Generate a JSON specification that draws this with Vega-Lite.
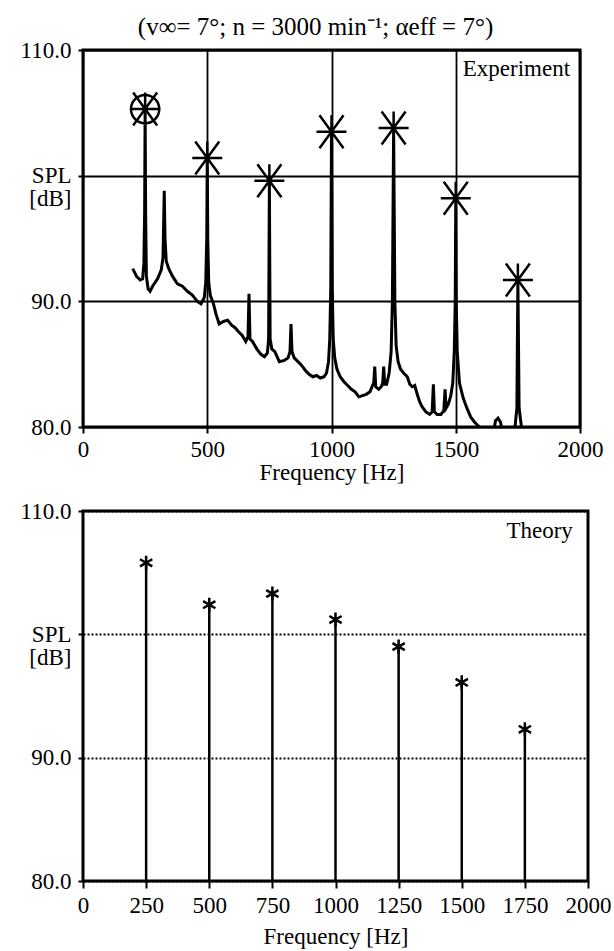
{
  "$schema": "https://vega.github.io/schema/vega-lite/v6.json",
  "background": "white",
  "padding": {"left": 18, "top": 14, "right": 2, "bottom": 0},
  "title": {
    "text": "(v∞= 7°; n = 3000 min⁻¹; αeff = 7°)",
    "font": "Liberation Serif",
    "fontSize": 25,
    "fontWeight": "normal",
    "color": "black",
    "anchor": "middle",
    "offset": -2
  },
  "datasets": {
    "spectrum": [
      {"seg": "a", "f": 200, "v": 92.6}, {"seg": "a", "f": 215, "v": 92.0}, {"seg": "a", "f": 230, "v": 91.7},
      {"seg": "a", "f": 240, "v": 91.8}, {"seg": "a", "f": 245, "v": 93.0}, {"seg": "a", "f": 248, "v": 97.0},
      {"seg": "a", "f": 250, "v": 105.3}, {"seg": "a", "f": 252, "v": 97.0}, {"seg": "a", "f": 255, "v": 92.0},
      {"seg": "a", "f": 262, "v": 91.0}, {"seg": "a", "f": 270, "v": 90.8}, {"seg": "a", "f": 280, "v": 91.2},
      {"seg": "a", "f": 300, "v": 91.8}, {"seg": "a", "f": 315, "v": 92.5}, {"seg": "a", "f": 322, "v": 93.5},
      {"seg": "a", "f": 327, "v": 98.8}, {"seg": "a", "f": 330, "v": 95.0}, {"seg": "a", "f": 335, "v": 93.2},
      {"seg": "a", "f": 345, "v": 92.6}, {"seg": "a", "f": 360, "v": 92.0}, {"seg": "a", "f": 380, "v": 91.4},
      {"seg": "a", "f": 400, "v": 91.2}, {"seg": "a", "f": 420, "v": 90.8}, {"seg": "a", "f": 440, "v": 90.5},
      {"seg": "a", "f": 460, "v": 90.0}, {"seg": "a", "f": 475, "v": 89.8}, {"seg": "a", "f": 488, "v": 90.3},
      {"seg": "a", "f": 494, "v": 91.5}, {"seg": "a", "f": 498, "v": 95.0}, {"seg": "a", "f": 500, "v": 101.4},
      {"seg": "a", "f": 502, "v": 95.0}, {"seg": "a", "f": 506, "v": 91.5}, {"seg": "a", "f": 512, "v": 90.5},
      {"seg": "a", "f": 525, "v": 89.8}, {"seg": "a", "f": 535, "v": 89.0}, {"seg": "a", "f": 548, "v": 88.2},
      {"seg": "a", "f": 565, "v": 88.4}, {"seg": "a", "f": 582, "v": 88.5}, {"seg": "a", "f": 598, "v": 88.1},
      {"seg": "a", "f": 612, "v": 87.9}, {"seg": "a", "f": 625, "v": 87.6}, {"seg": "a", "f": 640, "v": 87.3},
      {"seg": "a", "f": 655, "v": 86.8}, {"seg": "a", "f": 664, "v": 87.2}, {"seg": "a", "f": 668, "v": 90.6},
      {"seg": "a", "f": 672, "v": 87.0}, {"seg": "a", "f": 682, "v": 86.8}, {"seg": "a", "f": 700, "v": 86.2},
      {"seg": "a", "f": 715, "v": 85.8}, {"seg": "a", "f": 730, "v": 85.6}, {"seg": "a", "f": 742, "v": 85.9},
      {"seg": "a", "f": 747, "v": 87.0}, {"seg": "a", "f": 750, "v": 99.6}, {"seg": "a", "f": 753, "v": 87.0},
      {"seg": "a", "f": 760, "v": 86.2}, {"seg": "a", "f": 772, "v": 86.0}, {"seg": "a", "f": 790, "v": 85.2},
      {"seg": "a", "f": 810, "v": 85.3}, {"seg": "a", "f": 825, "v": 85.5}, {"seg": "a", "f": 833, "v": 86.0},
      {"seg": "a", "f": 837, "v": 88.2}, {"seg": "a", "f": 841, "v": 86.0}, {"seg": "a", "f": 850, "v": 85.5},
      {"seg": "a", "f": 865, "v": 85.2}, {"seg": "a", "f": 880, "v": 84.9}, {"seg": "a", "f": 895, "v": 84.5},
      {"seg": "a", "f": 910, "v": 84.2}, {"seg": "a", "f": 925, "v": 84.0}, {"seg": "a", "f": 940, "v": 84.1},
      {"seg": "a", "f": 955, "v": 83.9}, {"seg": "a", "f": 970, "v": 84.0}, {"seg": "a", "f": 980, "v": 84.3},
      {"seg": "a", "f": 988, "v": 85.2}, {"seg": "a", "f": 993, "v": 87.0}, {"seg": "a", "f": 997, "v": 91.0},
      {"seg": "a", "f": 1000, "v": 103.5}, {"seg": "a", "f": 1003, "v": 91.0}, {"seg": "a", "f": 1007, "v": 87.0},
      {"seg": "a", "f": 1013, "v": 85.5}, {"seg": "a", "f": 1022, "v": 84.6}, {"seg": "a", "f": 1035, "v": 84.0},
      {"seg": "a", "f": 1050, "v": 83.6}, {"seg": "a", "f": 1065, "v": 83.3}, {"seg": "a", "f": 1080, "v": 83.0},
      {"seg": "a", "f": 1095, "v": 82.8}, {"seg": "a", "f": 1110, "v": 82.4}, {"seg": "a", "f": 1125, "v": 82.5},
      {"seg": "a", "f": 1140, "v": 82.6}, {"seg": "a", "f": 1155, "v": 82.8}, {"seg": "a", "f": 1165, "v": 83.3},
      {"seg": "a", "f": 1170, "v": 83.5}, {"seg": "a", "f": 1174, "v": 84.8}, {"seg": "a", "f": 1178, "v": 83.2},
      {"seg": "a", "f": 1190, "v": 83.0}, {"seg": "a", "f": 1200, "v": 83.2}, {"seg": "a", "f": 1206, "v": 83.5},
      {"seg": "a", "f": 1210, "v": 84.8}, {"seg": "a", "f": 1214, "v": 83.4}, {"seg": "a", "f": 1222, "v": 83.4},
      {"seg": "a", "f": 1232, "v": 84.3}, {"seg": "a", "f": 1240, "v": 86.0}, {"seg": "a", "f": 1245, "v": 90.0},
      {"seg": "a", "f": 1250, "v": 103.8}, {"seg": "a", "f": 1255, "v": 90.0}, {"seg": "a", "f": 1260, "v": 86.5},
      {"seg": "a", "f": 1268, "v": 85.2}, {"seg": "a", "f": 1278, "v": 84.6}, {"seg": "a", "f": 1290, "v": 84.3},
      {"seg": "a", "f": 1305, "v": 84.0}, {"seg": "a", "f": 1315, "v": 83.4}, {"seg": "a", "f": 1325, "v": 83.2},
      {"seg": "a", "f": 1335, "v": 83.3}, {"seg": "a", "f": 1345, "v": 82.6}, {"seg": "a", "f": 1355, "v": 82.0},
      {"seg": "a", "f": 1365, "v": 81.6}, {"seg": "a", "f": 1380, "v": 81.2}, {"seg": "a", "f": 1395, "v": 81.0},
      {"seg": "a", "f": 1405, "v": 81.2}, {"seg": "a", "f": 1410, "v": 83.4}, {"seg": "a", "f": 1414, "v": 81.2},
      {"seg": "a", "f": 1425, "v": 81.0}, {"seg": "a", "f": 1440, "v": 81.0}, {"seg": "a", "f": 1452, "v": 81.3},
      {"seg": "a", "f": 1457, "v": 83.0}, {"seg": "a", "f": 1461, "v": 81.5}, {"seg": "a", "f": 1470, "v": 81.8},
      {"seg": "a", "f": 1480, "v": 82.5}, {"seg": "a", "f": 1488, "v": 83.5}, {"seg": "a", "f": 1494, "v": 86.0},
      {"seg": "a", "f": 1498, "v": 90.0}, {"seg": "a", "f": 1500, "v": 98.2}, {"seg": "a", "f": 1502, "v": 90.0},
      {"seg": "a", "f": 1506, "v": 86.0}, {"seg": "a", "f": 1515, "v": 83.5}, {"seg": "a", "f": 1530, "v": 82.3},
      {"seg": "a", "f": 1545, "v": 81.5}, {"seg": "a", "f": 1560, "v": 80.8}, {"seg": "a", "f": 1575, "v": 80.4},
      {"seg": "a", "f": 1590, "v": 80.1}, {"seg": "a", "f": 1600, "v": 79.9},
      {"seg": "b", "f": 1655, "v": 79.9}, {"seg": "b", "f": 1660, "v": 80.5}, {"seg": "b", "f": 1670, "v": 80.7},
      {"seg": "b", "f": 1680, "v": 80.4}, {"seg": "b", "f": 1685, "v": 79.9},
      {"seg": "c", "f": 1738, "v": 79.9}, {"seg": "c", "f": 1746, "v": 81.5}, {"seg": "c", "f": 1750, "v": 91.7},
      {"seg": "c", "f": 1755, "v": 81.5}, {"seg": "c", "f": 1765, "v": 79.9}
    ],
    "exp": [
      {"f": 250, "v": 105.3}, {"f": 500, "v": 101.4}, {"f": 750, "v": 99.6}, {"f": 1000, "v": 103.5},
      {"f": 1250, "v": 103.8}, {"f": 1500, "v": 98.2}, {"f": 1750, "v": 91.7}
    ],
    "theory": [
      {"f": 250, "v": 105.8}, {"f": 500, "v": 102.4}, {"f": 750, "v": 103.3}, {"f": 1000, "v": 101.2},
      {"f": 1250, "v": 99.0}, {"f": 1500, "v": 96.1}, {"f": 1750, "v": 92.3}
    ]
  },
  "vconcat": [
    {
      "width": 497,
      "height": 377,
      "layer": [
        {
          "data": {"name": "spectrum"},
          "mark": {"type": "line", "color": "black", "strokeWidth": 3, "clip": true},
          "encoding": {
            "x": {"field": "f", "type": "quantitative"},
            "y": {"field": "v", "type": "quantitative"},
            "detail": {"field": "seg"}
          }
        },
        {
          "data": {"name": "exp"},
          "mark": {"type": "point", "shape": "M-1,0L1,0M-0.8,-1.1L0.8,1.1M0.8,-1.1L-0.8,1.1M0,-1.1L0,0", "size": 900, "color": "black", "strokeWidth": 2.5, "filled": false, "opacity": 1},
          "encoding": {
            "x": {"field": "f", "type": "quantitative"},
            "y": {"field": "v", "type": "quantitative"}
          }
        },
        {
          "data": {"name": "exp"},
          "transform": [{"filter": "datum.f == 250"}],
          "mark": {"type": "point", "shape": "circle", "size": 800, "color": "black", "strokeWidth": 2.5, "filled": false, "opacity": 1},
          "encoding": {
            "x": {"field": "f", "type": "quantitative"},
            "y": {"field": "v", "type": "quantitative"}
          }
        },
        {
          "data": {"values": [{"label": "Experiment"}]},
          "mark": {"type": "text", "align": "right", "baseline": "middle", "font": "Liberation Serif", "fontSize": 23, "color": "black"},
          "encoding": {
            "x": {"datum": 1960, "type": "quantitative"},
            "y": {"datum": 108.5, "type": "quantitative"},
            "text": {"field": "label"}
          }
        }
      ],
      "encoding": {
        "x": {
          "type": "quantitative",
          "scale": {"domain": [0, 2000], "nice": false},
          "axis": {"title": "Frequency [Hz]", "format": "d", "values": [0, 500, 1000, 1500, 2000], "grid": true, "gridWidth": 1.8, "tickSize": 6, "labelPadding": 5, "titlePadding": 0, "labelFlush": false}
        },
        "y": {
          "type": "quantitative",
          "scale": {"domain": [80, 110], "nice": false, "zero": false},
          "axis": {"title": null, "values": [80, 90, 100, 110], "grid": true, "gridWidth": 2, "tickSize": 5, "labelPadding": 7, "labelFlush": false,
                   "labelExpr": "datum.value == 100 ? ['SPL', '[dB]'] : format(datum.value, '.1f')"}
        }
      }
    },
    {
      "width": 505,
      "height": 370,
      "layer": [
        {
          "data": {"name": "theory"},
          "mark": {"type": "rule", "color": "black", "strokeWidth": 2.5},
          "encoding": {
            "x": {"field": "f", "type": "quantitative"},
            "y": {"field": "v", "type": "quantitative"},
            "y2": {"datum": 80}
          }
        },
        {
          "data": {"name": "theory"},
          "mark": {"type": "point", "shape": "M0,-1L0,1M-0.87,-0.5L0.87,0.5M-0.87,0.5L0.87,-0.5", "size": 200, "color": "black", "strokeWidth": 2.5, "filled": false, "opacity": 1},
          "encoding": {
            "x": {"field": "f", "type": "quantitative"},
            "y": {"field": "v", "type": "quantitative"}
          }
        },
        {
          "data": {"values": [{"label": "Theory"}]},
          "mark": {"type": "text", "align": "right", "baseline": "middle", "font": "Liberation Serif", "fontSize": 23, "color": "black"},
          "encoding": {
            "x": {"datum": 1940, "type": "quantitative"},
            "y": {"datum": 108.4, "type": "quantitative"},
            "text": {"field": "label"}
          }
        }
      ],
      "encoding": {
        "x": {
          "type": "quantitative",
          "scale": {"domain": [0, 2000], "nice": false},
          "axis": {"title": "Frequency [Hz]", "format": "d", "values": [0, 250, 500, 750, 1000, 1250, 1500, 1750, 2000], "grid": false, "tickSize": 7, "labelPadding": 6, "titlePadding": 8, "labelFlush": false}
        },
        "y": {
          "type": "quantitative",
          "scale": {"domain": [80, 110], "nice": false, "zero": false},
          "axis": {"title": null, "values": [80, 90, 100, 110], "grid": true, "gridWidth": 2, "gridDash": [2, 2], "tickSize": 5, "labelPadding": 7, "labelFlush": false,
                   "labelExpr": "datum.value == 100 ? ['SPL', '[dB]'] : format(datum.value, '.1f')"}
        }
      }
    }
  ],
  "spacing": 12,
  "config": {
    "font": "Liberation Serif",
    "view": {"stroke": "black", "strokeWidth": 3},
    "axis": {
      "labelFont": "Liberation Serif", "labelFontSize": 23, "labelColor": "black",
      "titleFont": "Liberation Serif", "titleFontSize": 23, "titleFontWeight": "normal", "titleColor": "black",
      "tickColor": "black", "tickWidth": 2, "domain": false, "gridColor": "black", "gridOpacity": 1,
      "labelLineHeight": 23
    }
  }
}
